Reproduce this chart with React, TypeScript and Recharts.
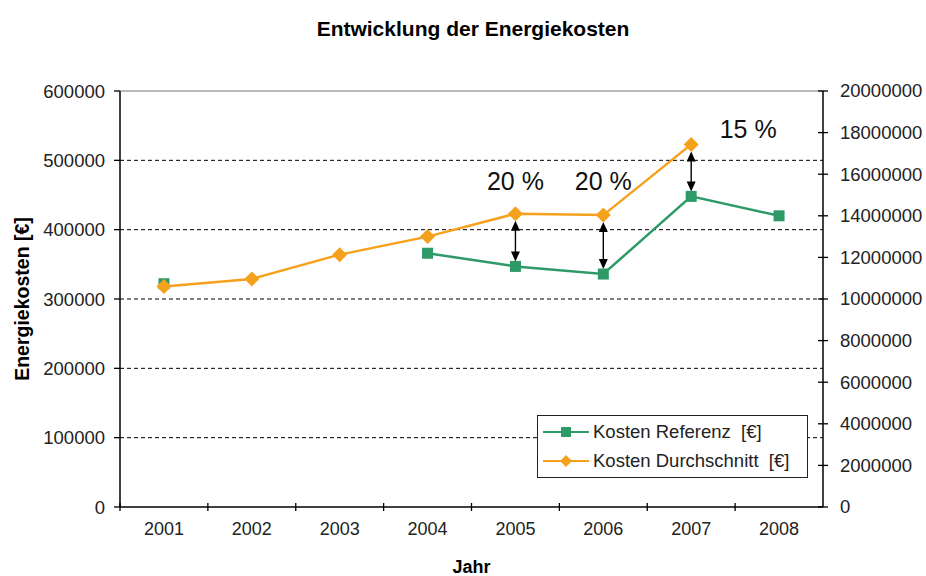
import React from 'react';
import {
  LineChart, Line, XAxis, YAxis, CartesianGrid, ReferenceLine, ReferenceDot, Legend,
} from 'recharts';

const years = ['2001', '2002', '2003', '2004', '2005', '2006', '2007', '2008'];
const kostenReferenz: (number | null)[] = [322000, null, null, 366000, 347000, 336000, 448000, 420000];
const kostenDurchschnitt: (number | null)[] = [318000, 329000, 364000, 390000, 423000, 421000, 523000, null];
const leftTicks = [0, 100000, 200000, 300000, 400000, 500000, 600000];
const gridValues = [100000, 200000, 300000, 400000, 500000];
const rightTicks = [0, 2000000, 4000000, 6000000, 8000000, 10000000, 12000000, 14000000, 16000000, 18000000, 20000000];
const annotationYears = ['2005', '2006', '2007'];
const annotationTexts = ['20 %', '20 %', '15 %'];
const annotationLabelValues = [470000, 470000, 545000];
const annotationLabelDx = [0, 0, 57];

const seriesNames = ['Kosten Referenz  [€]', 'Kosten Durchschnitt  [€]'];
const GREEN = '#2E9A68';
const ORANGE = '#F5A11C';
const FONT = '"Liberation Sans", Arial, sans-serif';

const data = years.map((y, i) => ({ year: y, ref: kostenReferenz[i], avg: kostenDurchschnitt[i] }));

const SquareDot = (p: any) => {
  if (p.cx == null || p.cy == null || p.value == null) return <g key={p.key} />;
  return <rect key={p.key} x={p.cx - 5.5} y={p.cy - 5.5} width={11} height={11} fill={GREEN} />;
};
const DiamondDot = (p: any) => {
  if (p.cx == null || p.cy == null || p.value == null) return <g key={p.key} />;
  const r = 7.5;
  return (
    <polygon
      key={p.key}
      points={`${p.cx},${p.cy - r} ${p.cx + r},${p.cy} ${p.cx},${p.cy + r} ${p.cx - r},${p.cy}`}
      fill={ORANGE}
    />
  );
};

const XTick = (p: any) => {
  const { x, y, payload } = p;
  const off = payload && payload.offset ? payload.offset : 44;
  return (
    <g>
      <line x1={x - off} x2={x - off} y1={y - 4} y2={y + 4} stroke="#000" strokeWidth={1.3} />
      <text x={x} y={y + 28} textAnchor="middle" fontSize={18} fill="#222" fontFamily={FONT}>
        {payload.value}
      </text>
    </g>
  );
};

const RightTick = (p: any) => {
  const { x, y, payload } = p;
  return (
    <g>
      <line x1={x - 5} x2={x + 5} y1={y} y2={y} stroke="#000" strokeWidth={1.3} />
      <text x={x + 17} y={y} dy="0.35em" textAnchor="start" fontSize={18.5} fill="#222" fontFamily={FONT}>
        {payload.value}
      </text>
    </g>
  );
};

const ArrowShape = (p: any) => {
  const { x1, y1, y2 } = p;
  if (x1 == null || y1 == null || y2 == null) return <g />;
  const top = Math.min(y1, y2) + 7;
  const bot = Math.max(y1, y2) - 5;
  const hw = 4.5;
  const hl = 10;
  return (
    <g>
      <line x1={x1} x2={x1} y1={top + hl - 1} y2={bot - hl + 1} stroke="#000" strokeWidth={1.4} />
      <polygon points={`${x1},${top} ${x1 + hw},${top + hl} ${x1 - hw},${top + hl}`} fill="#000" />
      <polygon points={`${x1},${bot} ${x1 + hw},${bot - hl} ${x1 - hw},${bot - hl}`} fill="#000" />
    </g>
  );
};

const makeTextShape = (text: string, dx: number) => (p: any) => (
  <text x={p.cx + dx} y={p.cy} dy="0.35em" textAnchor="middle" fontSize={25} fill="#111" fontFamily={FONT}>
    {text}
  </text>
);

const LegendBox = () => (
  <div
    style={{
      border: '1.5px solid #222',
      background: '#fff',
      width: 271,
      height: 63,
      boxSizing: 'border-box',
      fontFamily: FONT,
      fontSize: 18.5,
      color: '#222',
      padding: '1px 0 0 5px',
    }}
  >
    {seriesNames.map((name, i) => (
      <div key={name} style={{ display: 'flex', alignItems: 'center', height: 29 }}>
        <svg width={48} height={16} style={{ marginRight: 2 }}>
          <line x1={0} x2={46} y1={8} y2={8} stroke={i === 0 ? GREEN : ORANGE} strokeWidth={2} />
          {i === 0 ? (
            <rect x={18} y={3} width={10} height={10} fill={GREEN} />
          ) : (
            <polygon points="23,2 29,8 23,14 17,8" fill={ORANGE} />
          )}
        </svg>
        <span style={{ whiteSpace: 'pre' }}>{name}</span>
      </div>
    ))}
  </div>
);

export default function App() {
  return (
    <div style={{ position: 'absolute', left: 0, top: 0, width: 926, height: 576, background: '#fff' }}>
      <div
        style={{
          position: 'absolute', left: 223, top: 17, width: 500, textAlign: 'center',
          fontFamily: FONT, fontWeight: 'bold', fontSize: 21, color: '#000',
        }}
      >
        Entwicklung der Energiekosten
      </div>
      <LineChart width={926} height={576} data={data} margin={{ top: 91, right: 0, bottom: 0, left: 0 }}>
        <CartesianGrid
          yAxisId="left"
          vertical={false}
          horizontalValues={gridValues}
          stroke="#000"
          strokeDasharray="4 3"
        />
        <XAxis
          dataKey="year"
          scale="band"
          height={69}
          tickSize={0}
          tickMargin={0}
          tickLine={false}
          tick={<XTick />}
          interval={0}
          axisLine={{ stroke: '#000', strokeWidth: 1.5 }}
          label={{
            content: (lp: any) => {
              const vb = lp.viewBox;
              return (
                <text x={vb.x + vb.width / 2} y={573} textAnchor="middle" fontSize={18} fontWeight="bold" fill="#000" fontFamily={FONT}>
                  Jahr
                </text>
              );
            },
          }}
        />
        <YAxis
          yAxisId="left"
          width={120}
          domain={[0, 600000]}
          ticks={leftTicks}
          interval={0}
          allowDataOverflow
          tickSize={6}
          tickMargin={9}
          tick={{ fontSize: 18.5, fill: '#222', fontFamily: FONT }}
          tickLine={{ stroke: '#000', strokeWidth: 1.3 }}
          axisLine={{ stroke: '#000', strokeWidth: 1.5 }}
          label={{
            content: (lp: any) => {
              const vb = lp.viewBox;
              const cx = 22;
              const cy = vb.y + vb.height / 2;
              return (
                <text x={cx} y={cy} transform={`rotate(-90 ${cx} ${cy})`} textAnchor="middle" dy="0.35em" fontSize={19.5} fontWeight="bold" fill="#000" fontFamily={FONT}>
                  Energiekosten [€]
                </text>
              );
            },
          }}
        />
        <YAxis
          yAxisId="right"
          orientation="right"
          width={103}
          domain={[0, 20000000]}
          ticks={rightTicks}
          interval={0}
          allowDataOverflow
          tickSize={0}
          tickMargin={0}
          tickLine={false}
          tick={<RightTick />}
          axisLine={{ stroke: '#000', strokeWidth: 1.5 }}
        />
        <ReferenceLine yAxisId="left" y={600000} stroke="#777" strokeWidth={1.2} />
        <Line
          yAxisId="left"
          dataKey="ref"
          name={seriesNames[0]}
          stroke={GREEN}
          strokeWidth={2.5}
          dot={SquareDot}
          activeDot={false}
          connectNulls={false}
          isAnimationActive={false}
        />
        <Line
          yAxisId="left"
          dataKey="avg"
          name={seriesNames[1]}
          stroke={ORANGE}
          strokeWidth={2.5}
          dot={DiamondDot}
          activeDot={false}
          connectNulls={false}
          isAnimationActive={false}
        />
        {annotationYears.map((yr) => {
          const idx = years.indexOf(yr);
          return (
            <ReferenceLine
              key={'arr' + yr}
              yAxisId="left"
              segment={[
                { x: yr, y: kostenDurchschnitt[idx] as number },
                { x: yr, y: kostenReferenz[idx] as number },
              ]}
              shape={ArrowShape}
            />
          );
        })}
        {annotationYears.map((yr, i) => (
          <ReferenceDot
            key={'lbl' + yr}
            yAxisId="left"
            x={yr}
            y={annotationLabelValues[i]}
            r={0}
            shape={makeTextShape(annotationTexts[i], annotationLabelDx[i])}
          />
        ))}
        <Legend
          layout="horizontal"
          verticalAlign="middle"
          align="center"
          content={<LegendBox />}
          wrapperStyle={{ left: 537, top: 415, width: 271, height: 63 }}
        />
      </LineChart>
    </div>
  );
}
